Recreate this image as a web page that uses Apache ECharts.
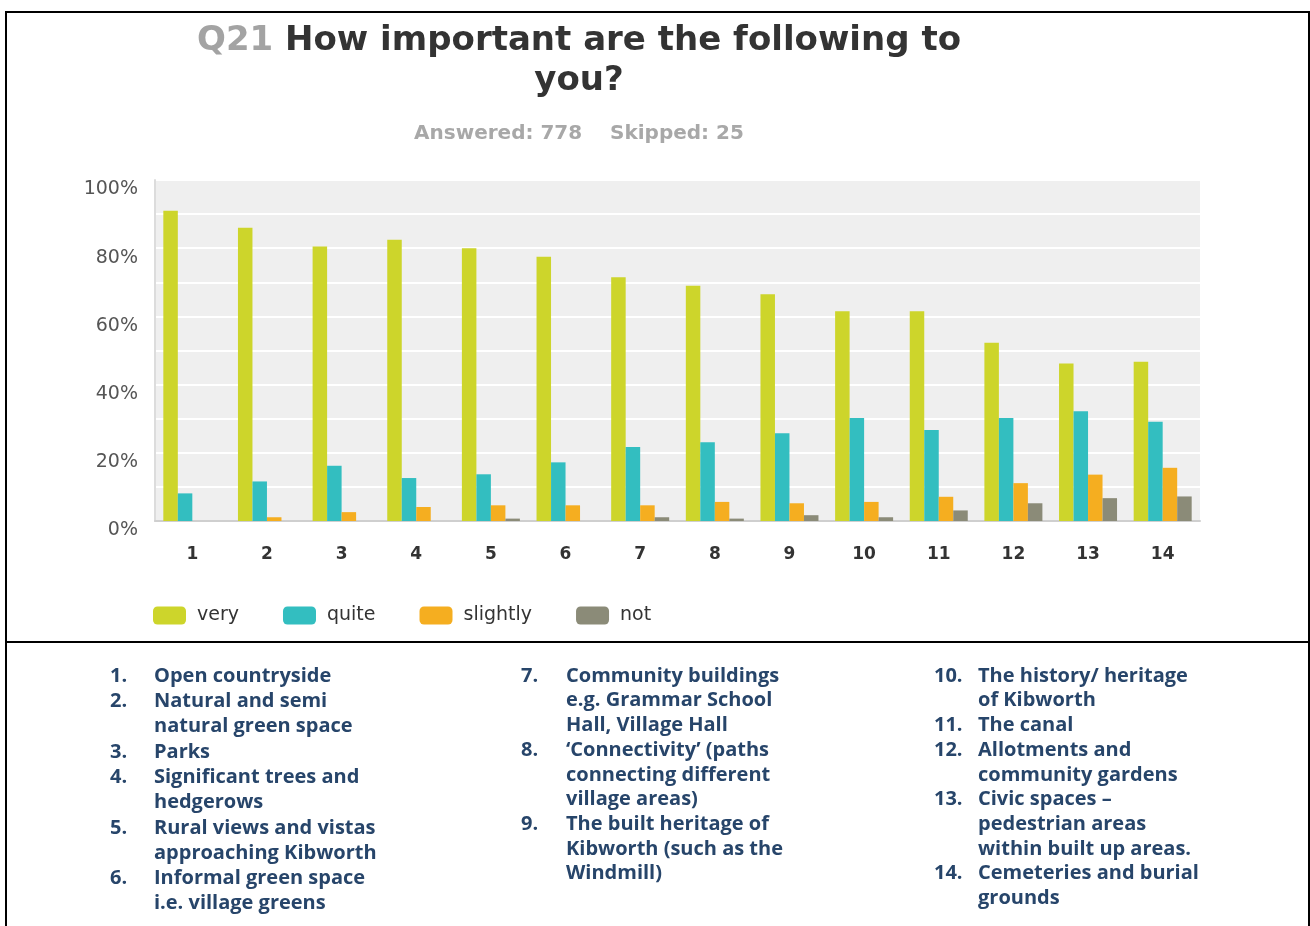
<!DOCTYPE html>
<html>
<head>
<meta charset="utf-8">
<script src="https://cdn.jsdelivr.net/npm/echarts@6/dist/echarts.min.js"></script>
<style>
  html, body { margin: 0; padding: 0; background: #fff; }
  #main { width: 1310px; height: 926px; }
</style>
</head>
<body>
<div id="main"></div>
<script>
// categories (question items 1..14)
var categories = ['1','2','3','4','5','6','7','8','9','10','11','12','13','14'];
var seriesNames = ['very', 'quite', 'slightly', 'not'];
// percentages
var veryData     = [91, 86, 80.5, 82.5, 80, 77.5, 71.5, 69, 66.5, 61.5, 61.5, 52.3, 46.2, 46.7];
var quiteData    = [8.1, 11.6, 16.2, 12.6, 13.7, 17.2, 21.7, 23.1, 25.7, 30.2, 26.7, 30.2, 32.2, 29.1];
var slightlyData = [0, 1.1, 2.6, 4.1, 4.6, 4.6, 4.6, 5.6, 5.2, 5.6, 7.1, 11.1, 13.6, 15.6];
var notData      = [0, 0, 0, 0, 0.7, 0, 1.1, 0.7, 1.7, 1.1, 3.1, 5.2, 6.7, 7.2];
var yTicks = [0, 20, 40, 60, 80, 100];

// key to the numbered items, one list per column
var notesCol1 = [['1.', 'Open countryside'], ['2.', 'Natural and semi'], ['', 'natural green space'],
  ['3.', 'Parks'], ['4.', 'Significant trees and'], ['', 'hedgerows'], ['5.', 'Rural views and vistas'],
  ['', 'approaching Kibworth'], ['6.', 'Informal green space'], ['', 'i.e. village greens']];
var notesCol2 = [['7.', 'Community buildings'], ['', 'e.g. Grammar School'], ['', 'Hall, Village Hall'],
  ['8.', '\u2018Connectivity\u2019 (paths'], ['', 'connecting different'], ['', 'village areas)'],
  ['9.', 'The built heritage of'], ['', 'Kibworth (such as the'], ['', 'Windmill)']];
var notesCol3 = [['10.', 'The history/ heritage'], ['', 'of Kibworth'], ['11.', 'The canal'],
  ['12.', 'Allotments and'], ['', 'community gardens'], ['13.', 'Civic spaces \u2013'],
  ['', 'pedestrian areas'], ['', 'within built up areas.'], ['14.', 'Cemeteries and burial'], ['', 'grounds']];

var colors = ['#cdd52b', '#33bec0', '#f5ae20', '#8b8b78'];
var FONT = '"DejaVu Sans", Verdana, sans-serif';

var myChart = echarts.init(document.getElementById('main'));

// note text blocks
function noteGraphics(rows, numX, textX, y0, lh) {
  var out = [];
  rows.forEach(function (r, i) {
    var y = y0 + i * lh;
    if (r[0]) {
      out.push({ type: 'text', style: { text: r[0], x: numX, y: y, verticalAlign: 'middle',
        font: '700 20px "Open Sans"', fill: '#27456a' } });
    }
    out.push({ type: 'text', style: { text: r[1], x: textX, y: y, verticalAlign: 'middle',
      font: '700 20px "Open Sans"', fill: '#27456a' } });
  });
  return out;
}

var graphics = [
  // frame lines
  { type: 'line', shape: { x1: 6, y1: 12, x2: 1309, y2: 12 }, style: { stroke: '#000', lineWidth: 2 } },
  { type: 'line', shape: { x1: 6, y1: 11, x2: 6, y2: 926 }, style: { stroke: '#000', lineWidth: 2 } },
  { type: 'line', shape: { x1: 1309, y1: 11, x2: 1309, y2: 926 }, style: { stroke: '#000', lineWidth: 2 } },
  { type: 'line', shape: { x1: 6, y1: 642, x2: 1309, y2: 642 }, style: { stroke: '#000', lineWidth: 2 } },
  // title
  { type: 'text', style: {
      text: '{q|Q21} {h|How important are the following to}',
      x: 579, y: 41, align: 'center', verticalAlign: 'middle',
      rich: {
        q: { font: '700 34px ' + FONT, fill: '#a3a3a3' },
        h: { font: '700 34px ' + FONT, fill: '#333333' }
      },
      font: '700 34px ' + FONT
  } },
  { type: 'text', style: { text: 'you?', x: 579, y: 81, align: 'center', verticalAlign: 'middle',
      font: '700 34px ' + FONT, fill: '#333333' } },
  { type: 'text', style: { text: 'Answered: 778    Skipped: 25', x: 579, y: 134, align: 'center',
      verticalAlign: 'middle', font: '700 20px ' + FONT, fill: '#a8a8a8' } }
];
graphics = graphics.concat(noteGraphics(notesCol1, 110, 154, 676, 25.3));
graphics = graphics.concat(noteGraphics(notesCol2, 521, 566, 676, 24.7));
graphics = graphics.concat(noteGraphics(notesCol3, 934, 978, 676, 24.7));

var allData = [veryData, quiteData, slightlyData, notData];

myChart.setOption({
  animation: false,
  textStyle: { fontFamily: FONT },
  grid: {
    show: true,
    left: 155, right: 110, top: 180, bottom: 405,
    backgroundColor: '#efefef',
    borderWidth: 0
  },
  legend: {
    data: seriesNames,
    left: 148, top: 601,
    icon: 'roundRect',
    itemWidth: 33, itemHeight: 18,
    itemGap: 44,
    textStyle: { fontSize: 19, color: '#333', padding: [0, 0, 0, 6], fontFamily: FONT }
  },
  xAxis: {
    type: 'category',
    data: categories,
    axisLine: { show: true, lineStyle: { color: '#cfcfcf', width: 2 } },
    axisTick: { show: false },
    axisLabel: { fontSize: 17, fontWeight: 'bold', color: '#333', margin: 25 }
  },
  yAxis: {
    type: 'value',
    min: 0, max: 100, interval: 10,
    axisLine: { show: true, lineStyle: { color: '#dcdcdc', width: 2 } },
    axisTick: { show: false },
    splitLine: { lineStyle: { color: '#ffffff', width: 2 } },
    axisLabel: {
      fontSize: 19, color: '#555', margin: 17, verticalAlign: 'top',
      formatter: function (v) { return yTicks.indexOf(v) >= 0 ? v + '%' : ''; }
    }
  },
  series: seriesNames.map(function (n, i) {
    return {
      name: n,
      type: 'bar',
      data: allData[i],
      barWidth: 14.5,
      barGap: '0%',
      itemStyle: { color: colors[i] }
    };
  }),
  graphic: graphics
});
</script>
</body>
</html>
